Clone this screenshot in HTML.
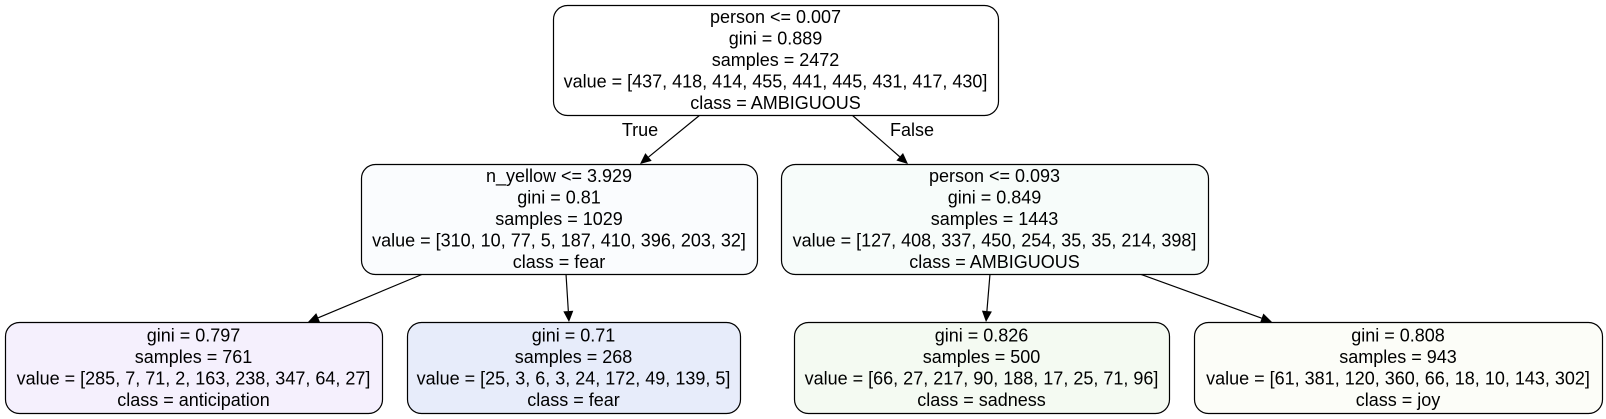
<!DOCTYPE html>
<html><head><meta charset="utf-8"><style>
html,body{margin:0;padding:0;background:#fff;}
svg{display:block;}
text{font-family:"Liberation Sans",Arial,sans-serif;font-size:18px;fill:#000;text-anchor:middle;}
</style></head><body>
<svg id="tree" width="1606" height="419" viewBox="0 0 1606 419"></svg>
<script>
const nodeIds = ["root","left","right","leaf1","leaf2","leaf3","leaf4"];
const nodeBoxes = [[553,5,998,115],[361,164,757,274],[781,164,1208,274],[5,322,382,413],[407,322,740,413],[794,322,1169,413],[1194,322,1602,413]];
const nodeFills = ["#ffffff","#fafcfe","#f7fcfa","#f5f0fd","#e7ecfa","#f4faf2","#fcfdf8"];
const nodeLines = [
 ["person <= 0.007","gini = 0.889","samples = 2472","value = [437, 418, 414, 455, 441, 445, 431, 417, 430]","class = AMBIGUOUS"],
 ["n_yellow <= 3.929","gini = 0.81","samples = 1029","value = [310, 10, 77, 5, 187, 410, 396, 203, 32]","class = fear"],
 ["person <= 0.093","gini = 0.849","samples = 1443","value = [127, 408, 337, 450, 254, 35, 35, 214, 398]","class = AMBIGUOUS"],
 ["gini = 0.797","samples = 761","value = [285, 7, 71, 2, 163, 238, 347, 64, 27]","class = anticipation"],
 ["gini = 0.71","samples = 268","value = [25, 3, 6, 3, 24, 172, 49, 139, 5]","class = fear"],
 ["gini = 0.826","samples = 500","value = [66, 27, 217, 90, 188, 17, 25, 71, 96]","class = sadness"],
 ["gini = 0.808","samples = 943","value = [61, 381, 120, 360, 66, 18, 10, 143, 302]","class = joy"]
];
const edges = [[700,115,640,164],[852,115,908,164],[423,274,308,322],[566,274,569,322],[990,274,986,322],[1140,274,1272,322]];
const svg = document.getElementById('tree');
const NS = "http://www.w3.org/2000/svg";
function mk(t,a){const e=document.createElementNS(NS,t);for(const k in a)e.setAttribute(k,a[k]);svg.appendChild(e);return e;}
edges.forEach((ed,i)=>{
  const [x1,y1,x2,y2]=ed;const dx=x2-x1,dy=y2-y1,L=Math.hypot(dx,dy),ux=dx/L,uy=dy/L;
  const bx=x2-ux*11,by=y2-uy*11;
  const l=mk('line',{x1:x1,y1:y1,x2:bx,y2:by,stroke:'#000','stroke-width':1.2});
  
  
  const p=mk('polygon',{points:`${x2},${y2} ${bx-uy*5},${by+ux*5} ${bx+uy*5},${by-ux*5}`,fill:'#000'});
  
  
});
nodeBoxes.forEach((b,i)=>{
  const [x1,y1,x2,y2]=b;
  const r=mk('rect',{x:x1+0.5,y:y1+0.5,width:x2-x1,height:y2-y1,rx:14,ry:14,fill:nodeFills[i],stroke:'#000','stroke-width':1.2});
  
  
  const lines=nodeLines[i];const lh=21.5;const cy=(y1+y2)/2;const start=cy-(lines.length-1)*lh/2+6;
  lines.forEach((s,j)=>{
    const t=mk('text',{x:(x1+x2)/2,y:start+j*lh});t.textContent=s;
    
    
  });
});
const tl=mk('text',{x:640,y:136});tl.textContent='True';


const fl=mk('text',{x:912,y:136});fl.textContent='False';


</script>
</body></html>
